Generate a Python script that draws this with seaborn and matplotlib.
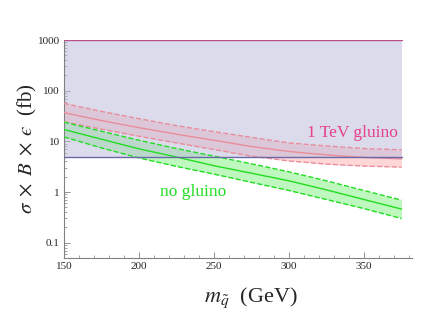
import numpy as np
import pandas as pd
import matplotlib
matplotlib.use('Agg')
import matplotlib.pyplot as plt
import matplotlib.ticker as mticker
import seaborn as sns

# ========== DADOS ==========
msq = [150, 175, 200, 225, 250, 275, 300, 325, 350, 375]

gluino_central = [36.7, 25.7, 18.6, 13.8, 10.5, 7.9, 6.3, 5.4, 4.8, 4.5]
gluino_upper = [56, 39, 28, 20.4, 15.5, 12, 9.3, 8.1, 7.2, 6.8]
gluino_lower = [24.3, 17.4, 12.6, 9.3, 6.9, 5.1, 4.1, 3.55, 3.25, 3.1]

nogluino_central = [17.1, 11, 7.1, 4.9, 3.3, 2.35, 1.66, 1.1, 0.71, 0.46]
nogluino_upper = [23.9, 15.8, 10.5, 7.2, 5.1, 3.6, 2.5, 1.66, 1.07, 0.69]
nogluino_lower = [12.2, 7.4, 4.7, 3.2, 2.25, 1.55, 1.07, 0.71, 0.47, 0.30]

limite_inferior = 5
limite_superior = 1000

ytick_vals = [0.1, 1, 10, 100, 1000]
ytick_labels = ['0.1', '1', '10', '100', '1000']
xtick_vals = [150, 200, 250, 300, 350]

df = pd.DataFrame({
    'msq': msq,
    'g_c': gluino_central, 'g_u': gluino_upper, 'g_l': gluino_lower,
    'n_c': nogluino_central, 'n_u': nogluino_upper, 'n_l': nogluino_lower,
})

# ========== ESTILO ==========
sns.set_style('ticks')
plt.rcParams['font.family'] = ['Liberation Serif', 'DejaVu Serif']
plt.rcParams['mathtext.fontset'] = 'stix'

cor_vermelha = '#ea8c9c'
cor_verde = '#22dd22'

fig = plt.figure(figsize=(4.27, 3.2), dpi=100)
ax = fig.add_axes([0.150, 0.194, 0.815, 0.681])

# bandas (opacas, a regiao azul vai por cima com transparencia)
ax.fill_between(df['msq'], df['g_l'], df['g_u'], color='#ffd7d7', lw=0, zorder=1)
ax.fill_between(df['msq'], df['n_l'], df['n_u'], color='#bef8be', lw=0, zorder=1)

# regiao azul
ax.fill_between([msq[0], msq[-1]], limite_inferior, limite_superior,
                color='#b9b9d9', alpha=0.5, lw=0, zorder=2)
ax.plot([msq[0], msq[-1]], [limite_inferior] * 2, color='#6a6aa8', lw=1.0, zorder=5)
ax.plot([msq[0], msq[-1]], [limite_superior] * 2, color='#b8508a', lw=1.0, zorder=5)

sns.lineplot(data=df, x='msq', y='g_c', ax=ax, color=cor_vermelha, lw=1.0, zorder=4)
sns.lineplot(data=df, x='msq', y='g_u', ax=ax, color=cor_vermelha, lw=1.0, ls='--', zorder=4)
sns.lineplot(data=df, x='msq', y='g_l', ax=ax, color=cor_vermelha, lw=1.0, ls='--', zorder=4)
sns.lineplot(data=df, x='msq', y='n_c', ax=ax, color=cor_verde, lw=1.0, zorder=4)
sns.lineplot(data=df, x='msq', y='n_u', ax=ax, color=cor_verde, lw=1.0, ls='--', zorder=4)
sns.lineplot(data=df, x='msq', y='n_l', ax=ax, color=cor_verde, lw=1.0, ls='--', zorder=4)

# eixos
ax.set_yscale('log')
ax.set_xlim(150, 382)
ax.set_ylim(0.05, 1000)
ax.set_yticks(ytick_vals)
ax.set_yticklabels(ytick_labels)
ax.yaxis.set_minor_locator(mticker.LogLocator(base=10, subs=np.arange(2, 10)))
ax.yaxis.set_minor_formatter(mticker.NullFormatter())
ax.set_xticks(xtick_vals)
ax.xaxis.set_minor_locator(mticker.MultipleLocator(10))

for s in ['top', 'right']:
    ax.spines[s].set_visible(False)
for s in ['left', 'bottom']:
    ax.spines[s].set_color('#808080')
    ax.spines[s].set_linewidth(0.8)

ax.tick_params(which='major', direction='in', length=4, width=0.6, color='#808080',
               labelsize=8, pad=3)
ax.tick_params(which='minor', direction='in', length=2, width=0.5, color='#808080')

ax.set_xlabel(r'$m_{\tilde{q}}$  (GeV)', fontsize=16)
ax.xaxis.set_label_coords(0.537, -0.125)
ax.set_ylabel('$\\sigma\\;\\times\\;B\\;\\times\\;\u03f5$  (fb)', fontsize=15, labelpad=-1)

ax.text(342, 14.9, '1 TeV gluino', color='#e6408a', fontsize=12.5,
        ha='center', va='center', zorder=6)
ax.text(236, 1.0, 'no gluino', color=cor_verde, fontsize=12.5,
        ha='center', va='center', zorder=6)

plt.savefig('out.png', dpi=100, facecolor='white')
